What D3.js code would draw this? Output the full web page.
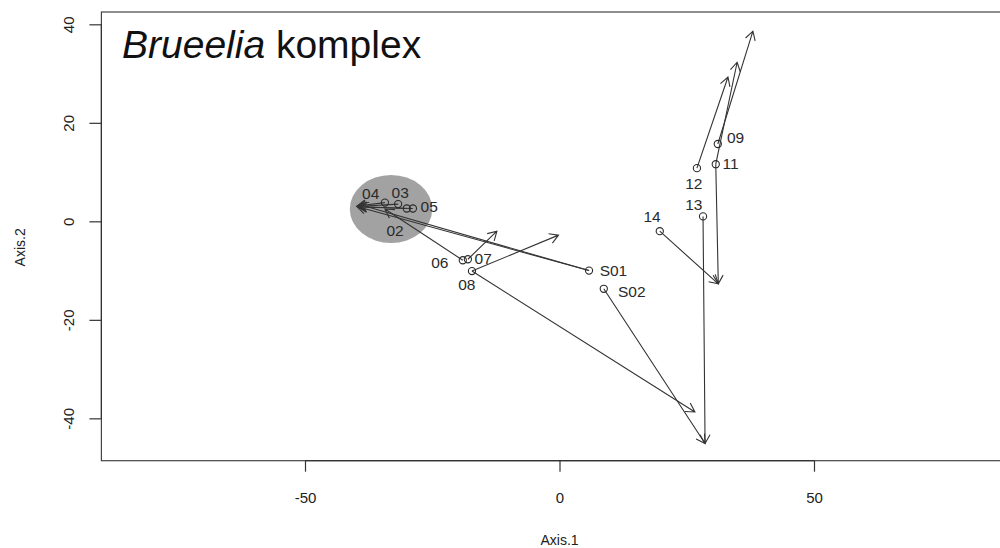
<!DOCTYPE html>
<html>
<head>
<meta charset="utf-8">
<script src="https://cdn.jsdelivr.net/npm/d3@7"></script>
<style>
  body { margin: 0; background: #fff; }
  svg { font-family: "Liberation Sans", Arial, sans-serif; }
</style>
</head>
<body>
<svg width="1000" height="548"></svg>
<script>
// sample labels and their ordination scores
var labels = ["02", "03", "04", "05", "06", "07", "08", "09", "11", "12", "13", "14", "S01", "S02"]
var axis1 = [-30.0, -31.7, -34.3, -28.8, -19.0, -18.0, -17.2, 31.1, 30.7, 27.0, 28.2, 19.7, 5.8, 8.7]
var axis2 = [2.6, 3.5, 3.8, 2.6, -7.9, -7.7, -10.1, 15.7, 11.6, 10.8, 1.0, -2.0, -10.0, -13.7]

// where each label text sits (data units)
var labelX = [-32.3, -31.3, -37.1, -25.6, -23.5, -15.0, -18.2, 34.6, 33.6, 26.4, 26.4, 18.2, 10.6, 14.2]
var labelY = [-1.8, 5.9, 5.7, 3.0, -8.3, -7.5, -12.9, 17.1, 11.8, 7.6, 3.5, 0.9, -9.9, -14.2]

// arrows: start sample -> target scores
var arrowFrom = ["02", "03", "04", "05", "S01", "S01", "06", "07", "08", "08", "S02", "13", "14", "11", "12", "11", "09"]
var arrowToX = [-39.6, -39.8, -39.8, -39.6, -39.8, -39.3, -34.3, -12.3, -0.2, 26.6, 28.6, 28.6, 31.2, 31.2, 33.1, 34.9, 38.0]
var arrowToY = [3.0, 3.0, 3.1, 2.9, 3.0, 3.4, 2.5, -2.0, -2.8, -38.7, -45.1, -45.1, -12.7, -12.7, 29.3, 32.3, 38.6]

// shaded group
var groupCentre = [-33.1, 2.5]
var groupRadius = [8.1, 6.9]

var xTicks = [-50, 0, 50]
var yTicks = [-40, -20, 0, 20, 40]

var svg = d3.select("svg"),
    plotLeft = 101.4, plotRight = 1017.6, plotTop = 12, plotBottom = 460.7

var x = d3.scaleLinear().domain([-90, 90]).range([plotLeft, plotRight])
var y = d3.scaleLinear().domain([-48.6, 42.5]).range([plotBottom, plotTop])

var ink = "#2a2a2a"

// group ellipse
svg.append("ellipse")
    .attr("cx", x(groupCentre[0]))
    .attr("cy", y(groupCentre[1]))
    .attr("rx", x(groupCentre[0] + groupRadius[0]) - x(groupCentre[0]))
    .attr("ry", y(groupCentre[1]) - y(groupCentre[1] + groupRadius[1]))
    .attr("fill", "#a2a2a2")

// frame
svg.append("rect")
    .attr("x", plotLeft).attr("y", plotTop)
    .attr("width", plotRight - plotLeft).attr("height", plotBottom - plotTop)
    .attr("fill", "none").attr("stroke", "#444").attr("stroke-width", 1.2)

// axes (R style: line only between first and last tick)
var xAxis = svg.append("g")
    .attr("transform", "translate(0," + plotBottom + ")")
    .call(d3.axisBottom(x).tickValues(xTicks).tickSize(11).tickPadding(21).tickFormat(String))
xAxis.select(".domain").attr("d", "M" + x(xTicks[0]) + ",0H" + x(xTicks[xTicks.length - 1]))

var yAxis = svg.append("g")
    .attr("transform", "translate(" + plotLeft + ",0)")
    .call(d3.axisLeft(y).tickValues(yTicks).tickSize(12).tickFormat(String))
yAxis.select(".domain").attr("d", "M0," + y(yTicks[0]) + "V" + y(yTicks[yTicks.length - 1]))
yAxis.selectAll(".tick text")
    .attr("transform", "rotate(-90)")
    .attr("x", 0).attr("y", -33)
    .attr("dy", "0.35em")
    .attr("text-anchor", "middle")

svg.selectAll(".domain, .tick line").attr("stroke", "#333").attr("stroke-width", 1.2)
svg.selectAll(".tick text").attr("font-size", 15).attr("fill", "#222")
    .attr("font-family", "Liberation Sans, Arial, sans-serif")

svg.append("text")
    .attr("x", x(0)).attr("y", 545)
    .attr("text-anchor", "middle").attr("font-size", 14).attr("fill", "#222")
    .text("Axis.1")

svg.append("text")
    .attr("transform", "translate(25," + ((plotTop + plotBottom) / 2 + 11) + ") rotate(-90)")
    .attr("text-anchor", "middle").attr("font-size", 14).attr("fill", "#222")
    .text("Axis.2")

// arrows
var arrows = arrowFrom.map(function(id, i) {
  var k = labels.indexOf(id)
  return { x0: axis1[k], y0: axis2[k], x1: arrowToX[i], y1: arrowToY[i] }
})

var head = 10, spread = Math.PI / 6
var arrowG = svg.append("g").attr("stroke", "#333").attr("stroke-width", 1.1).attr("fill", "none")
arrows.forEach(function(a) {
  var px0 = x(a.x0), py0 = y(a.y0), px1 = x(a.x1), py1 = y(a.y1)
  var ang = Math.atan2(py1 - py0, px1 - px0)
  var p = d3.path()
  p.moveTo(px0, py0)
  p.lineTo(px1, py1)
  p.moveTo(px1 - head * Math.cos(ang - spread), py1 - head * Math.sin(ang - spread))
  p.lineTo(px1, py1)
  p.lineTo(px1 - head * Math.cos(ang + spread), py1 - head * Math.sin(ang + spread))
  arrowG.append("path").attr("d", p.toString())
})

// points
svg.append("g")
  .selectAll("circle")
  .data(labels)
  .enter().append("circle")
    .attr("cx", function(d, i) { return x(axis1[i]) })
    .attr("cy", function(d, i) { return y(axis2[i]) })
    .attr("r", 3.6)
    .attr("fill", "none")
    .attr("stroke", ink)
    .attr("stroke-width", 1.1)

svg.append("g")
  .selectAll("text")
  .data(labels)
  .enter().append("text")
    .attr("x", function(d, i) { return x(labelX[i]) })
    .attr("y", function(d, i) { return y(labelY[i]) })
    .attr("dy", "0.35em")
    .attr("text-anchor", "middle")
    .attr("font-size", 15.5)
    .attr("fill", ink)
    .text(function(d) { return d })

// title
var title = svg.append("text")
    .attr("x", 122).attr("y", 58)
    .attr("font-size", 39).attr("fill", "#111")
title.append("tspan").attr("font-style", "italic").text("Brueelia")
title.append("tspan").text(" komplex")
</script>
</body>
</html>
